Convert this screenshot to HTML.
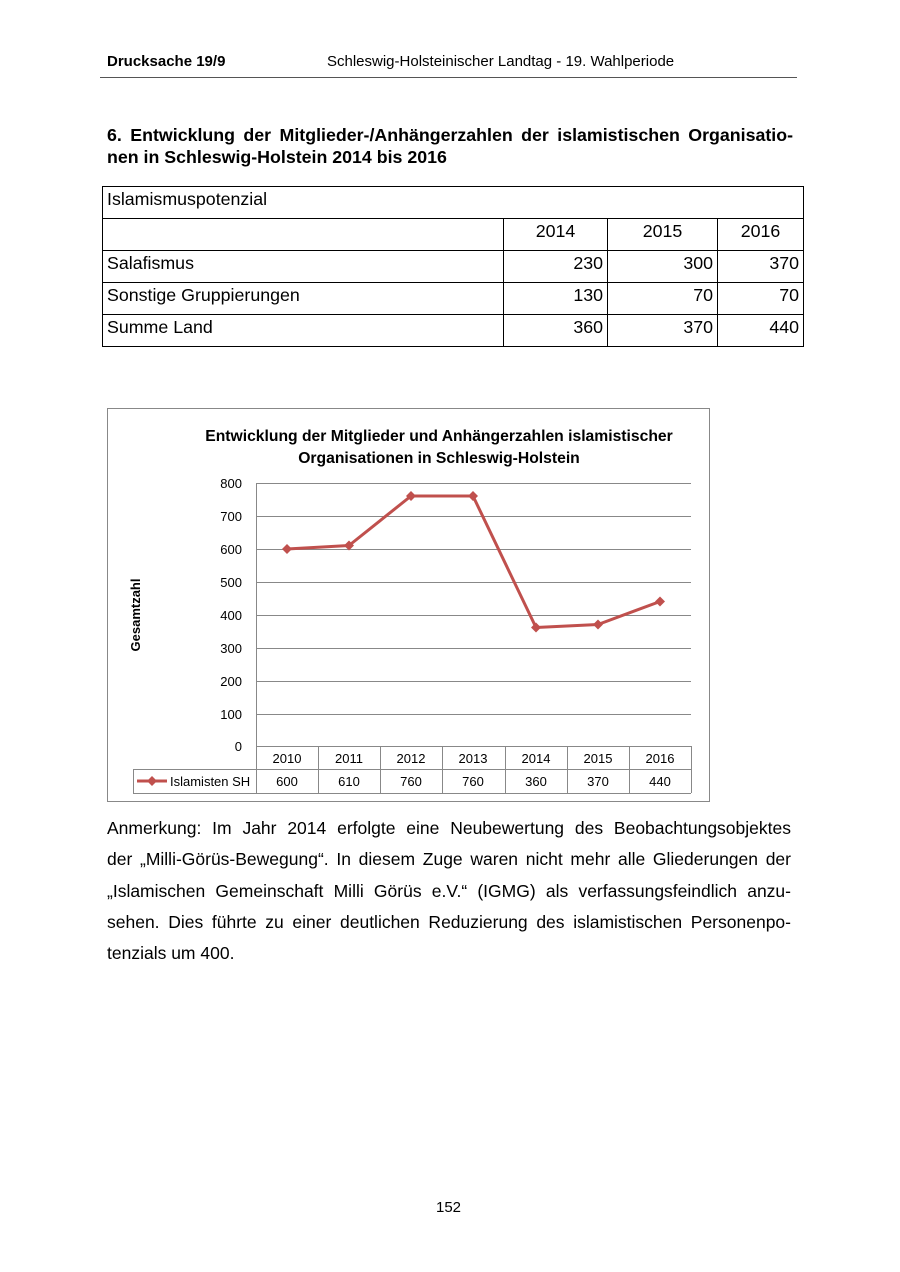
<!DOCTYPE html>
<html><head><meta charset="utf-8"><style>
body{margin:0;background:#fff;}
#p{position:relative;width:900px;height:1272px;font-family:"Liberation Sans",sans-serif;color:#000;overflow:hidden}
.a{position:absolute;white-space:nowrap}
td{border:1px solid #000;font-size:17.8px;padding:0 4px;height:31px;vertical-align:top;padding-top:2px;box-sizing:border-box}
.r{text-align:right}
.c{text-align:center}
</style></head><body><div id="p">
<div class="a" style="left:107px;top:53px;font-size:15px;font-weight:bold">Drucksache 19/9</div>
<div class="a" style="left:327px;top:53px;font-size:15px">Schleswig-Holsteinischer Landtag - 19. Wahlperiode</div>
<div class="a" style="left:100px;top:77px;width:697px;height:1px;background:#555"></div>
<div class="a" style="left:107px;top:125px;font-size:17.8px;font-weight:bold;width:686px;text-align:justify;text-align-last:justify">6. Entwicklung der Mitglieder-/Anhängerzahlen der islamistischen Organisatio-</div>
<div class="a" style="left:107px;top:147px;font-size:17.8px;font-weight:bold">nen in Schleswig-Holstein 2014 bis 2016</div>
<table class="a" style="left:102px;top:186px;border-collapse:collapse;width:702px">
<colgroup><col style="width:401px"><col style="width:104px"><col style="width:110px"><col style="width:86px"></colgroup>
<tr><td colspan="4" style="height:32px">Islamismuspotenzial</td></tr>
<tr><td style="height:32px"></td><td class="c">2014</td><td class="c">2015</td><td class="c">2016</td></tr>
<tr><td style="height:32px">Salafismus</td><td class="r">230</td><td class="r">300</td><td class="r">370</td></tr>
<tr><td style="height:32px">Sonstige Gruppierungen</td><td class="r">130</td><td class="r">70</td><td class="r">70</td></tr>
<tr><td style="height:32px">Summe Land</td><td class="r">360</td><td class="r">370</td><td class="r">440</td></tr>
</table>
<svg class="a" style="left:0;top:0" width="900" height="1272" font-family="Liberation Sans, sans-serif">
<rect x="107.5" y="408.5" width="602" height="393" fill="#fff" stroke="#888"/>
<text x="439" y="441" font-size="15.7" font-weight="bold" text-anchor="middle">Entwicklung der Mitglieder und Anhängerzahlen islamistischer</text>
<text x="439" y="463" font-size="15.7" font-weight="bold" text-anchor="middle">Organisationen in Schleswig-Holstein</text>
<g stroke="#888" stroke-width="1">
<line x1="256" y1="483.5" x2="691" y2="483.5"/><line x1="256" y1="516.5" x2="691" y2="516.5"/>
<line x1="256" y1="549.5" x2="691" y2="549.5"/><line x1="256" y1="582.5" x2="691" y2="582.5"/>
<line x1="256" y1="615.5" x2="691" y2="615.5"/><line x1="256" y1="648.5" x2="691" y2="648.5"/>
<line x1="256" y1="681.5" x2="691" y2="681.5"/><line x1="256" y1="714.5" x2="691" y2="714.5"/>
<line x1="256.5" y1="483" x2="256.5" y2="793"/>
<line x1="256" y1="746.5" x2="691" y2="746.5"/>
<line x1="133" y1="769.5" x2="691" y2="769.5"/>
<line x1="133" y1="793.5" x2="691" y2="793.5"/>
<line x1="133.5" y1="769" x2="133.5" y2="793"/>
<line x1="318.5" y1="746" x2="318.5" y2="793"/><line x1="380.5" y1="746" x2="380.5" y2="793"/>
<line x1="442.5" y1="746" x2="442.5" y2="793"/><line x1="505.5" y1="746" x2="505.5" y2="793"/>
<line x1="567.5" y1="746" x2="567.5" y2="793"/><line x1="629.5" y1="746" x2="629.5" y2="793"/>
<line x1="691.5" y1="746" x2="691.5" y2="793"/>
</g>
<g font-size="13" text-anchor="end">
<text x="242" y="488">800</text><text x="242" y="521">700</text><text x="242" y="554">600</text>
<text x="242" y="587">500</text><text x="242" y="620">400</text><text x="242" y="653">300</text>
<text x="242" y="686">200</text><text x="242" y="719">100</text><text x="242" y="751">0</text>
</g>
<text transform="translate(140,615) rotate(-90)" font-size="13" font-weight="bold" text-anchor="middle">Gesamtzahl</text>
<g font-size="13" text-anchor="middle">
<text x="287" y="763">2010</text><text x="349" y="763">2011</text><text x="411" y="763">2012</text>
<text x="473" y="763">2013</text><text x="536" y="763">2014</text><text x="598" y="763">2015</text><text x="660" y="763">2016</text>
<text x="287" y="786">600</text><text x="349" y="786">610</text><text x="411" y="786">760</text>
<text x="473" y="786">760</text><text x="536" y="786">360</text><text x="598" y="786">370</text><text x="660" y="786">440</text>
</g>
<text x="170" y="786" font-size="13">Islamisten SH</text>
<line x1="137" y1="781" x2="167" y2="781" stroke="#c0504d" stroke-width="3"/>
<path d="M152 776 L157 781 L152 786 L147 781Z" fill="#c0504d"/>
<polyline points="287,549 349,545.5 411,496 473,496 536,627.5 598,624.5 660,601.5" fill="none" stroke="#c0504d" stroke-width="3" stroke-linejoin="round"/>
<g fill="#c0504d">
<path d="M287 544 l5 5 l-5 5 l-5 -5z"/><path d="M349 540.5 l5 5 l-5 5 l-5 -5z"/>
<path d="M411 491 l5 5 l-5 5 l-5 -5z"/><path d="M473 491 l5 5 l-5 5 l-5 -5z"/>
<path d="M536 622.5 l5 5 l-5 5 l-5 -5z"/><path d="M598 619.5 l5 5 l-5 5 l-5 -5z"/>
<path d="M660 596.5 l5 5 l-5 5 l-5 -5z"/>
</g>
</svg>
<div class="a" style="left:107px;top:813px;width:684px;font-size:17.5px;line-height:31.3px;white-space:normal;text-align:justify">Anmerkung: Im Jahr 2014 erfolgte eine Neubewertung des Beobachtungsobjektes<br style="">der „Milli-Görüs-Bewegung“. In diesem Zuge waren nicht mehr alle Gliederungen der „Islamischen Gemeinschaft Milli Görüs e.V.“ (IGMG) als verfassungsfeindlich anzu-sehen. Dies führte zu einer deutlichen Reduzierung des islamistischen Personenpo-tenzials um 400.</div>
<div class="a" style="left:107px;top:813px;width:684px;font-size:17.5px;line-height:31.3px;text-align:justify;text-align-last:justify;background:#fff">Anmerkung: Im Jahr 2014 erfolgte eine Neubewertung des Beobachtungsobjektes</div>
<div class="a" style="left:436px;top:1199px;font-size:15px">152</div>
</div></body></html>
